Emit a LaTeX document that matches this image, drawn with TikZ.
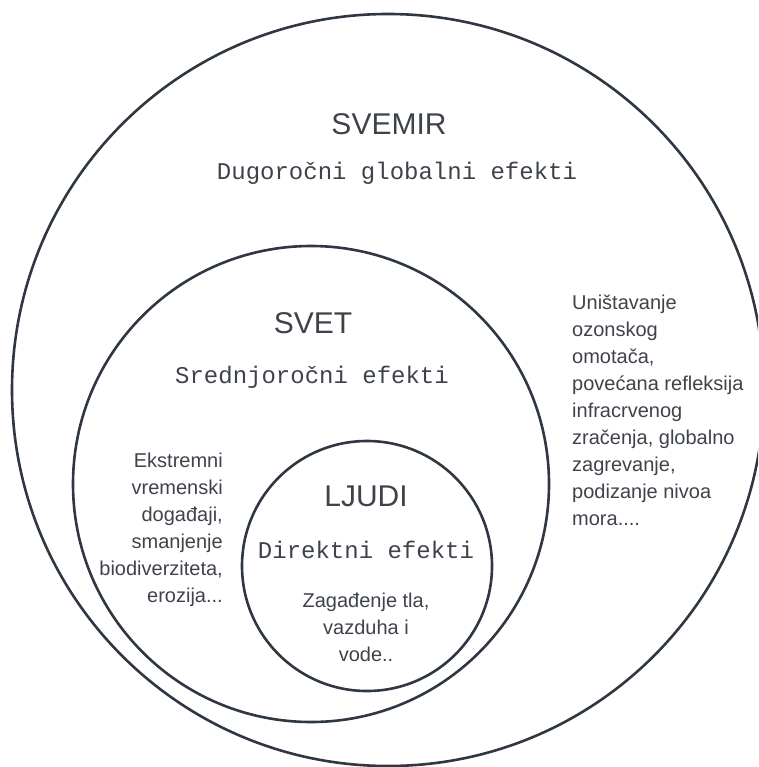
\documentclass[tikz,border=0pt]{standalone}
\usepackage{fontspec}
\usepackage{xcolor}
\setmainfont{Liberation Sans}
\newfontfamily\codefont{Liberation Mono}
\usetikzlibrary{positioning}
\definecolor{ink}{HTML}{2E3742}
\definecolor{txt}{HTML}{3E434B}

\begin{document}
\begin{tikzpicture}
		[x=1pt,y=-1pt,
		ring/.style={circle,draw=ink,line width=2.6pt,inner sep=0pt},
		title/.style={text=txt,inner sep=0pt,anchor=base,font=\fontsize{30}{32}\selectfont},
		effect/.style={text=txt,inner sep=0pt,anchor=base,font=\codefont\fontsize{24}{26}\selectfont},
		note/.style={text=txt,inner sep=0pt,font=\fontsize{20}{27}\selectfont}]
		\useasboundingbox (0,0) rectangle (758,767);
		\clip (0,0) rectangle (758,767);

		\node [ring,minimum size=752pt] (svemir) at (388,390) {};
		\node [ring,minimum size=476pt] (svet) at (311,484) {};
		\node [ring,minimum size=250pt] (ljudi) at (367,566) {};

		\node [title] (t1) at (389,135) {SVEMIR};
		\node [effect] (e1) at (397,180) {Dugoročni globalni efekti};
		\node [title] (t2) at (313,333) {SVET};
		\node [effect] (e2) at (312,383) {Srednjoročni efekti};
		\node [title] (t3) at (366,506) {LJUDI};
		\node [effect] (e3) at (366,558) {Direktni efekti};

		% multi-line notes sit on the baseline of their last line
		\node [note,align=center,anchor=base] (n3) at (366,661) {Zagađenje tla,\\vazduha i\\vode..};
		\node [note,align=right,anchor=base east] (n2) at (223,602) {Ekstremni\\vremenski\\događaji,\\smanjenje\\biodiverziteta,\\erozija...};
		\node [note,align=left,anchor=base west] (n1) at (572,525) {Uništavanje\\ozonskog\\omotača,\\povećana refleksija\\infracrvenog\\zračenja, globalno\\zagrevanje,\\podizanje nivoa\\mora....};

	\end{tikzpicture}
\end{document}
